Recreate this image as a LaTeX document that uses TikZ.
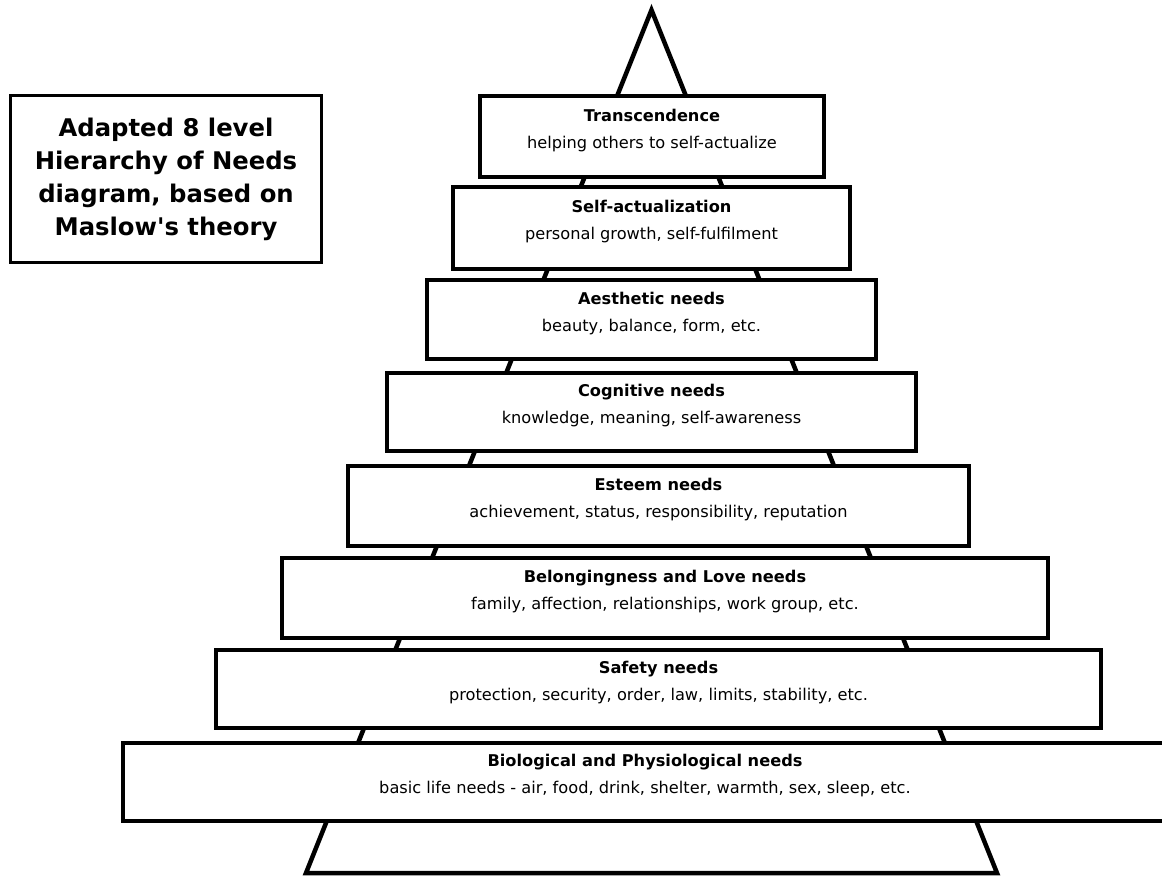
\documentclass[tikz,border=0pt]{standalone}
\usepackage{fontspec}
\setmainfont{DejaVu Sans}
\begin{document}
\begin{tikzpicture}[x=1pt,y=-1pt,
  pyramid/.style={line width=4.5pt, line join=miter},
  levelbox/.style={draw, line width=3.2pt, fill=white, inner sep=0pt},
  leveltext/.style={align=center, inner sep=0pt, font=\fontsize{16.2}{27}\selectfont},
  titlebox/.style={draw, line width=3pt, fill=white, inner sep=0pt, align=center,
    font=\fontsize{24.3}{33}\selectfont\bfseries}]
\clip (0,0) rectangle (1162,877);
\fill[white] (0,0) rectangle (1162,877);
% background pyramid
\coordinate (apex) at (651.5,10);
\coordinate (bl) at (306,873);
\coordinate (br) at (997,873);
\draw[pyramid] (apex) -- (bl) -- (br) -- cycle;
% level boxes
\node[levelbox, minimum width=344, minimum height=81] (l1) at (652,136.5) {};
\node[levelbox, minimum width=397, minimum height=82] (l2) at (651.5,228) {};
\node[levelbox, minimum width=449, minimum height=79] (l3) at (651.5,319.5) {};
\node[levelbox, minimum width=529, minimum height=78] (l4) at (651.5,412) {};
\node[levelbox, minimum width=621, minimum height=80] (l5) at (658.5,506) {};
\node[levelbox, minimum width=766, minimum height=80] (l6) at (665,598) {};
\node[levelbox, minimum width=885, minimum height=78] (l7) at (658.5,689) {};
\node[levelbox, minimum width=1044, minimum height=78] (l8) at (645,782) {};
% texts
\node[leveltext] (t1) at ([yshift=6pt]l1.center) {\textbf{Transcendence}\\helping others to self-actualize};
\node[leveltext] (t2) at ([yshift=6pt]l2.center) {\textbf{Self-actualization}\\personal growth, self-fulfilment};
\node[leveltext] (t3) at ([yshift=6pt]l3.center) {\textbf{Aesthetic needs}\\beauty, balance, form, etc.};
\node[leveltext] (t4) at ([yshift=6pt]l4.center) {\textbf{Cognitive needs}\\knowledge, meaning, self-awareness};
\node[leveltext] (t5) at ([yshift=6pt]l5.center) {\textbf{Esteem needs}\\achievement, status, responsibility, reputation};
\node[leveltext] (t6) at ([yshift=6pt]l6.center) {\textbf{Belongingness and Love needs}\\family, affection, relationships, work group, etc.};
\node[leveltext] (t7) at ([yshift=6pt]l7.center) {\textbf{Safety needs}\\protection, security, order, law, limits, stability, etc.};
\node[leveltext] (t8) at ([yshift=6pt]l8.center) {\textbf{Biological and Physiological needs}\\basic life needs - air, food, drink, shelter, warmth, sex, sleep, etc.};
% title box
\node[titlebox, minimum width=311, minimum height=167] (title) at (166,179)
  {Adapted 8 level\\Hierarchy of Needs\\diagram, based on\\Maslow\textquotesingle s theory};
\end{tikzpicture}
\end{document}
